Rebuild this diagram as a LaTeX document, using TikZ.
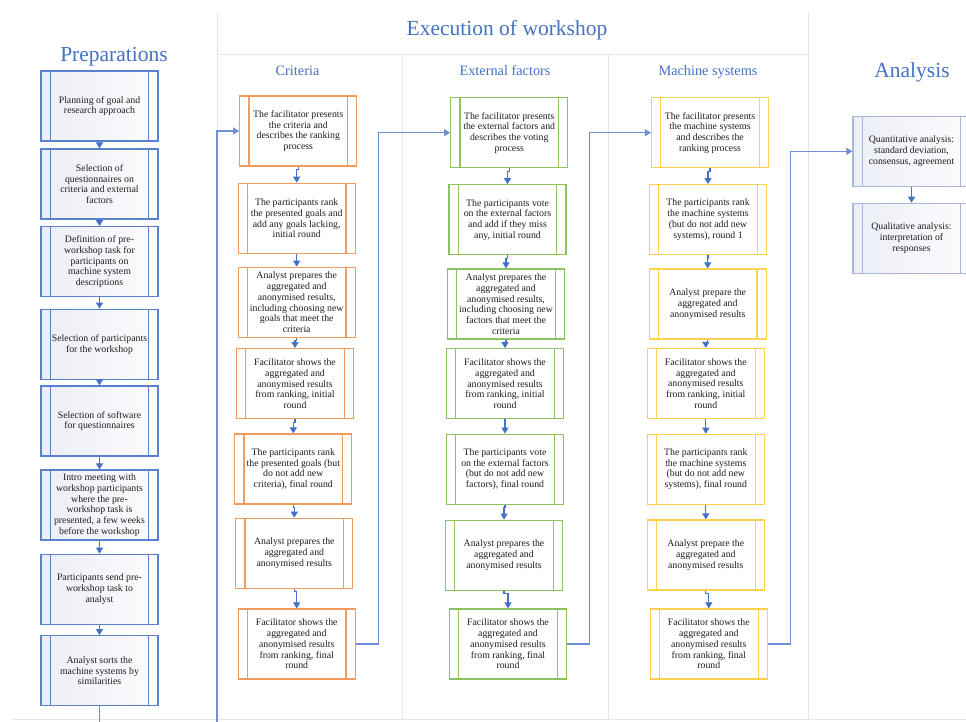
\documentclass[tikz,border=0pt]{standalone}
\usepackage{fontspec}
\setmainfont{Liberation Serif}
\usetikzlibrary{arrows.meta}
\definecolor{hdr}{HTML}{4472C4}
\definecolor{arrc}{HTML}{4470C8}
\definecolor{connc}{HTML}{6F90D6}
\definecolor{gridc}{HTML}{E3E6F2}
\definecolor{prepc}{HTML}{5B80CC}
\definecolor{anac}{HTML}{A9B8DA}
\definecolor{orc}{HTML}{F39A5E}
\definecolor{grc}{HTML}{8CC463}
\definecolor{ylc}{HTML}{FFD24D}
\definecolor{txtc}{HTML}{1E1E1E}
\definecolor{shadeL}{HTML}{ECEEF6}
\definecolor{shadeR}{HTML}{FCFCFE}
\tikzset{
  fbox/.style={draw=#1, line width=1.2pt, minimum width=117pt, minimum height=70pt,
    inner sep=1pt, align=center, text=txtc, font=\fontsize{9.8}{10.7}\selectfont},
  wbox/.style={fbox=#1, fill=white},
  sbox/.style={fbox=#1, left color=shadeL, right color=shadeR},
  innerline/.style={draw=#1, line width=1.2pt},
  bighead/.style={text=hdr, font=\fontsize{21.5}{24}\selectfont, anchor=base, inner sep=0pt},
  subhead/.style={text=hdr, font=\fontsize{14.3}{16}\selectfont, anchor=base, inner sep=0pt},
  arr/.style={draw=arrc, line width=1.1pt, -{Triangle[width=7pt,length=6pt]}},
  conn/.style={draw=connc, line width=1.1pt},
  gridline/.style={draw=gridc, line width=1pt}
}
\newcommand\fstep[2]{\draw[arr] (#1.south) -- ++(0,3) -| (#2.north);}
\newcommand\sidebars[2]{\draw[innerline=#2] ([xshift=9.8pt,yshift=-0.6pt]#1.north west) -- ([xshift=9.8pt,yshift=0.6pt]#1.south west)
  ([xshift=-9.8pt,yshift=-0.6pt]#1.north east) -- ([xshift=-9.8pt,yshift=0.6pt]#1.south east);}
\begin{document}
\begin{tikzpicture}[x=1pt, y=-1pt]
\useasboundingbox (0,0) rectangle (966,722);
\clip (0,0) rectangle (966,722);
\fill[white] (0,0) rectangle (966,722);

% section grid
\draw[gridline] (217,12) -- (217,719);
\draw[gridline] (808,12) -- (808,719);
\draw[gridline] (217,55) -- (808,55);
\draw[gridline] (402,55) -- (402,719);
\draw[gridline] (608,55) -- (608,719);
\draw[gridline] (12,719) -- (966,719);

% headings
\node[bighead] (hprep) at (114,62) {Preparations};
\node[bighead] (hexec) at (507,36) {Execution of workshop};
\node[bighead] (hana) at (912,78) {Analysis};
\node[subhead] (hcrit) at (297.5,76) {Criteria};
\node[subhead] (hext) at (505,76) {External factors};
\node[subhead] (hmach) at (708,76) {Machine systems};

% preparations
\node[sbox=prepc] (p1) at (99.5,106) {Planning of goal and\\research approach};
\node[sbox=prepc] (p2) at (99.5,184) {Selection of\\questionnaires on\\criteria and external\\factors};
\node[sbox=prepc] (p3) at (99.5,261.7) {Definition of pre-\\workshop task for\\participants on\\machine system\\descriptions};
\node[sbox=prepc] (p4) at (99.5,344.3) {Selection of participants\\for the workshop};
\node[sbox=prepc] (p5) at (99.5,421) {Selection of software\\for questionnaires};
\node[sbox=prepc] (p6) at (99.5,505) {Intro meeting with\\workshop participants\\where the pre-\\workshop task is\\presented, a few weeks\\before the workshop};
\node[sbox=prepc] (p7) at (99.5,589.3) {Participants send pre-\\workshop task to\\analyst};
\node[sbox=prepc] (p8) at (99.5,670.7) {Analyst sorts the\\machine systems by\\similarities};

% criteria
\node[wbox=orc] (c1) at (298.3,131) {The facilitator presents\\the criteria and\\describes the ranking\\process};
\node[wbox=orc] (c2) at (296.7,218.3) {The participants rank\\the presented goals and\\add any goals lacking,\\initial round};
\node[wbox=orc] (c3) at (296.7,302.3) {Analyst prepares the\\aggregated and\\anonymised results,\\including choosing new\\goals that meet the\\criteria};
\node[wbox=orc] (c4) at (295,383.7) {Facilitator shows the\\aggregated and\\anonymised results\\from ranking, initial\\round};
\node[wbox=orc] (c5) at (293.3,469) {The participants rank\\the presented goals (but\\do not add new\\criteria), final round};
\node[wbox=orc] (c6) at (294.3,553.3) {Analyst prepares the\\aggregated and\\anonymised results};
\node[wbox=orc] (c7) at (296.7,644) {Facilitator shows the\\aggregated and\\anonymised results\\from ranking, final\\round};

% external factors
\node[wbox=grc] (e1) at (509.2,132.7) {The facilitator presents\\the external factors and\\describes the voting\\process};
\node[wbox=grc] (e2) at (507.5,219.8) {The participants vote\\on the external factors\\and add if they miss\\any, initial round};
\node[wbox=grc] (e3) at (506,304) {Analyst prepares the\\aggregated and\\anonymised results,\\including choosing new\\factors that meet the\\criteria};
\node[wbox=grc] (e4) at (505,383.7) {Facilitator shows the\\aggregated and\\anonymised results\\from ranking, initial\\round};
\node[wbox=grc] (e5) at (505,469.2) {The participants vote\\on the external factors\\(but do not add new\\factors), final round};
\node[wbox=grc] (e6) at (504,555.2) {Analyst prepares the\\aggregated and\\anonymised results};
\node[wbox=grc] (e7) at (508,644) {Facilitator shows the\\aggregated and\\anonymised results\\from ranking, final\\round};

% machine systems
\node[wbox=ylc] (m1) at (710,132.7) {The facilitator presents\\the machine systems\\and describes the\\ranking process};
\node[wbox=ylc] (m2) at (708,219.7) {The participants rank\\the machine systems\\(but do not add new\\systems), round 1};
\node[wbox=ylc] (m3) at (707.7,304) {Analyst prepare the\\aggregated and\\anonymised results};
\node[wbox=ylc] (m4) at (705.8,383.5) {Facilitator shows the\\aggregated and\\anonymised results\\from ranking, initial\\round};
\node[wbox=ylc] (m5) at (705.8,469.3) {The participants rank\\the machine systems\\(but do not add new\\systems), final round};
\node[wbox=ylc] (m6) at (705.8,555) {Analyst prepare the\\aggregated and\\anonymised results};
\node[wbox=ylc] (m7) at (708.8,644) {Facilitator shows the\\aggregated and\\anonymised results\\from ranking, final\\round};

% analysis
\node[sbox=anac] (a1) at (911.5,151.3) {Quantitative analysis:\\standard deviation,\\consensus, agreement};
\node[sbox=anac] (a2) at (911.5,238.3) {Qualitative analysis:\\interpretation of\\responses};

% inner side bars of the process boxes
\foreach \n in {p1,p2,p3,p4,p5,p6,p7,p8} {\sidebars{\n}{prepc}}
\foreach \n in {c1,c2,c3,c4,c5,c6,c7} {\sidebars{\n}{orc}}
\foreach \n in {e1,e2,e3,e4,e5,e6,e7} {\sidebars{\n}{grc}}
\foreach \n in {m1,m2,m3,m4,m5,m6,m7} {\sidebars{\n}{ylc}}
\foreach \n in {a1,a2} {\sidebars{\n}{anac}}

% arrows in preparations
\foreach \a/\b in {p1/p2,p2/p3,p3/p4,p4/p5,p5/p6,p6/p7,p7/p8}
  \draw[arr] (\a.south) -- (\b.north);
\draw[arr] (a1.south) -- (a2.north);

% arrows in workshop columns
\fstep{c1}{c2}\fstep{c2}{c3}\fstep{c3}{c4}\fstep{c4}{c5}\fstep{c5}{c6}\fstep{c6}{c7}
\fstep{e1}{e2}\fstep{e2}{e3}\fstep{e3}{e4}\fstep{e4}{e5}\fstep{e5}{e6}\fstep{e6}{e7}
\fstep{m1}{m2}\fstep{m2}{m3}\fstep{m3}{m4}\fstep{m4}{m5}\fstep{m5}{m6}\fstep{m6}{m7}

% connectors between phases
\coordinate (b1) at (99.5,740);
\coordinate (b2) at (217,740);
\draw[conn] (p8.south) -- (b1) -- (b2);
\draw[conn, -{Triangle[width=7pt,length=6pt]}] (b2) |- (c1.west);
\coordinate (j1) at (378.3,644);
\draw[conn, -{Triangle[width=7pt,length=6pt]}] (c7.east) -- (j1) |- (e1.west);
\coordinate (j2) at (589.3,644);
\draw[conn, -{Triangle[width=7pt,length=6pt]}] (e7.east) -- (j2) |- (m1.west);
\coordinate (j3) at (790.3,644);
\draw[conn, -{Triangle[width=7pt,length=6pt]}] (m7.east) -- (j3) |- (a1.west);
\end{tikzpicture}
\end{document}
